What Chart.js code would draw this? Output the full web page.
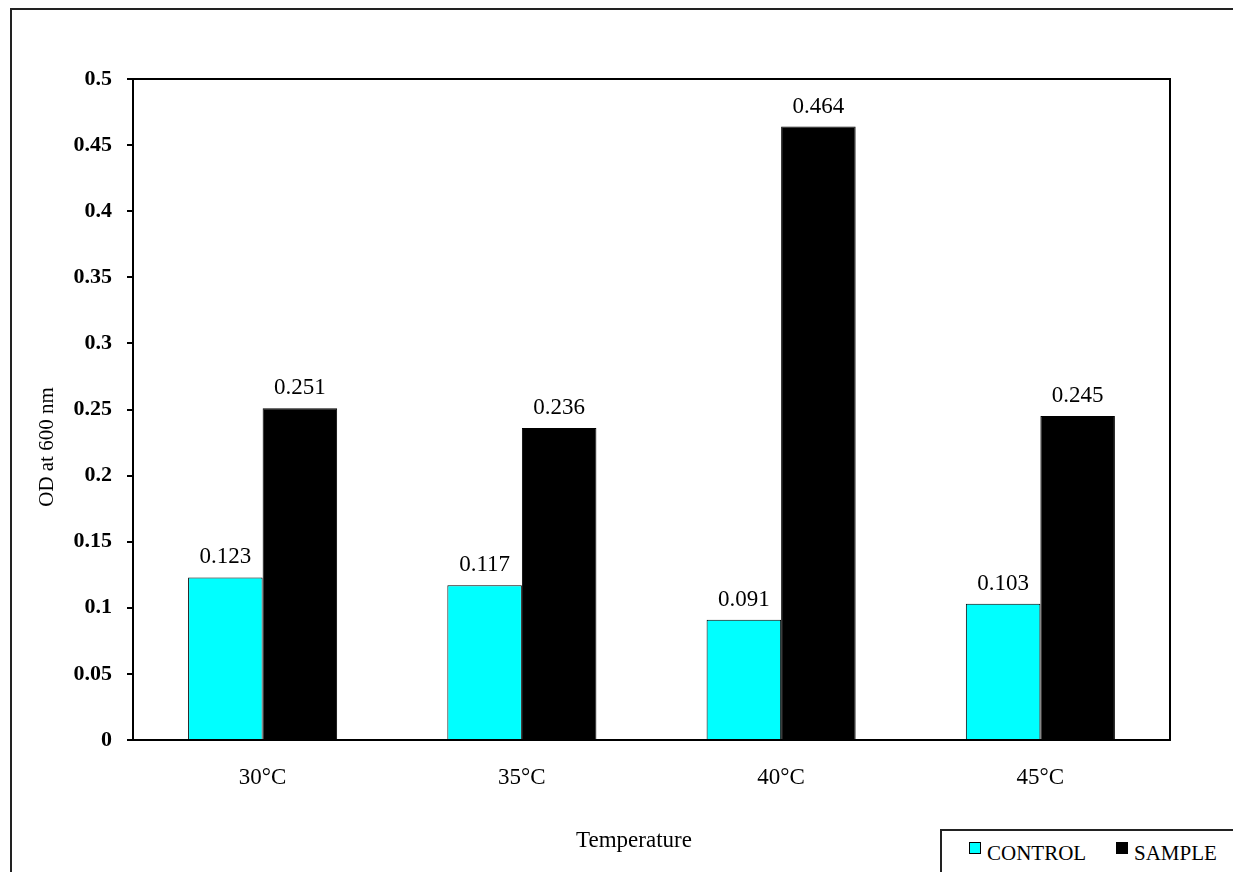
<!DOCTYPE html>
<html>
<head>
<meta charset="utf-8">
<title>OD at 600 nm vs Temperature</title>
<script src="https://cdn.jsdelivr.net/npm/chart.js@4.4.0/dist/chart.umd.min.js"></script>
<style>
html, body { margin: 0; padding: 0; background: #fff; }
#wrap { position: relative; width: 1233px; height: 872px; overflow: hidden; }
#frame { position: absolute; left: 10px; top: 8px; width: 1260px; height: 900px; border: 2px solid #222; box-sizing: border-box; }
#chart-box { position: absolute; left: 0; top: 0; width: 1233px; height: 872px; }
#legend { position: absolute; left: 940px; top: 829px; width: 320px; height: 60px; border: 2px solid #222; box-sizing: border-box; background: #fff;
  font-family: "Liberation Serif", "Times New Roman", serif; font-size: 21px; color: #000; }
.item { position: absolute; top: 10px; white-space: nowrap; }
.sw { display: inline-block; width: 10px; height: 10px; border: 1px solid #000; margin-right: 6px; vertical-align: 6px; }
</style>
</head>
<body>
<div id="wrap">
  <div id="frame"></div>
  <div id="chart-box"><canvas id="odChart"></canvas></div>
  <div id="legend">
    <span class="item" style="left:27px"><span class="sw" style="background:#00ffff"></span>CONTROL</span>
    <span class="item" style="left:174px"><span class="sw" style="background:#000"></span>SAMPLE</span>
  </div>
</div>
<script>
// --- Data ---
const categories = ['30°C', '35°C', '40°C', '45°C'];
const controlValues = [0.123, 0.117, 0.091, 0.103];
const sampleValues = [0.251, 0.236, 0.464, 0.245];

const SERIF = '"Liberation Serif", "Times New Roman", serif';

// box round the plot area
const plotFrame = {
    id: 'plotFrame',
    afterDraw(chart) {
        const { ctx, chartArea: a } = chart;
        ctx.save();
        ctx.strokeStyle = '#000';
        ctx.lineWidth = 2;
        ctx.strokeRect(a.left, a.top, a.right - a.left, a.bottom - a.top);
        ctx.restore();
    }
};

// value labels above each bar
const barLabels = {
    id: 'barLabels',
    afterDatasetsDraw(chart) {
        const ctx = chart.ctx;
        ctx.save();
        ctx.font = '23px ' + SERIF;
        ctx.fillStyle = '#000';
        ctx.textAlign = 'center';
        ctx.textBaseline = 'alphabetic';
        chart.data.datasets.forEach((ds, i) => {
            chart.getDatasetMeta(i).data.forEach((bar, j) => {
                ctx.fillText(ds.data[j].toFixed(3), bar.x, bar.y - 14);
            });
        });
        ctx.restore();
    }
};

// axis titles are centred on the whole chart, not on the plot area
const axisTitles = {
    id: 'axisTitles',
    afterDraw(chart) {
        const ctx = chart.ctx;
        ctx.save();
        ctx.fillStyle = '#000';
        ctx.textAlign = 'center';
        ctx.textBaseline = 'alphabetic';
        ctx.font = '23px ' + SERIF;
        ctx.fillText('Temperature', 634, 847);
        ctx.font = '21px ' + SERIF;
        ctx.translate(53, 447);
        ctx.rotate(-Math.PI / 2);
        ctx.fillText('OD at 600 nm', 0, 0);
        ctx.restore();
    }
};

const ctx = document.getElementById('odChart').getContext('2d');
new Chart(ctx, {
    type: 'bar',
    data: {
        labels: categories,
        datasets: [
            { label: 'CONTROL', data: controlValues, backgroundColor: '#00ffff', borderColor: '#000', borderWidth: 1 },
            { label: 'SAMPLE', data: sampleValues, backgroundColor: '#000', borderColor: '#000', borderWidth: 1 }
        ]
    },
    options: {
        responsive: true,
        maintainAspectRatio: false,
        animation: false,
        layout: { padding: { top: 79, right: 63, left: 0, bottom: 0 } },
        datasets: { bar: { categoryPercentage: 0.575, barPercentage: 1 } },
        scales: {
            x: {
                grid: { display: false, drawTicks: false },
                border: { color: '#000', width: 2 },
                ticks: { color: '#000', padding: 24, font: { family: SERIF, size: 23 } },
                afterFit(scale) { scale.height = 132; }
            },
            y: {
                min: 0,
                max: 0.5,
                ticks: {
                    stepSize: 0.05,
                    color: '#000',
                    padding: 15,
                    font: { family: SERIF, size: 22, weight: 'bold' },
                    callback: v => String(Math.round(v * 100) / 100)
                },
                grid: { display: true, drawOnChartArea: false, drawTicks: true, tickLength: 6, color: '#000', lineWidth: 2 },
                border: { color: '#000', width: 2 },
                afterFit(scale) { scale.width = 133; }
            }
        },
        plugins: {
            legend: { display: false },
            tooltip: { enabled: false }
        }
    },
    plugins: [plotFrame, barLabels, axisTitles]
});
</script>
</body>
</html>
